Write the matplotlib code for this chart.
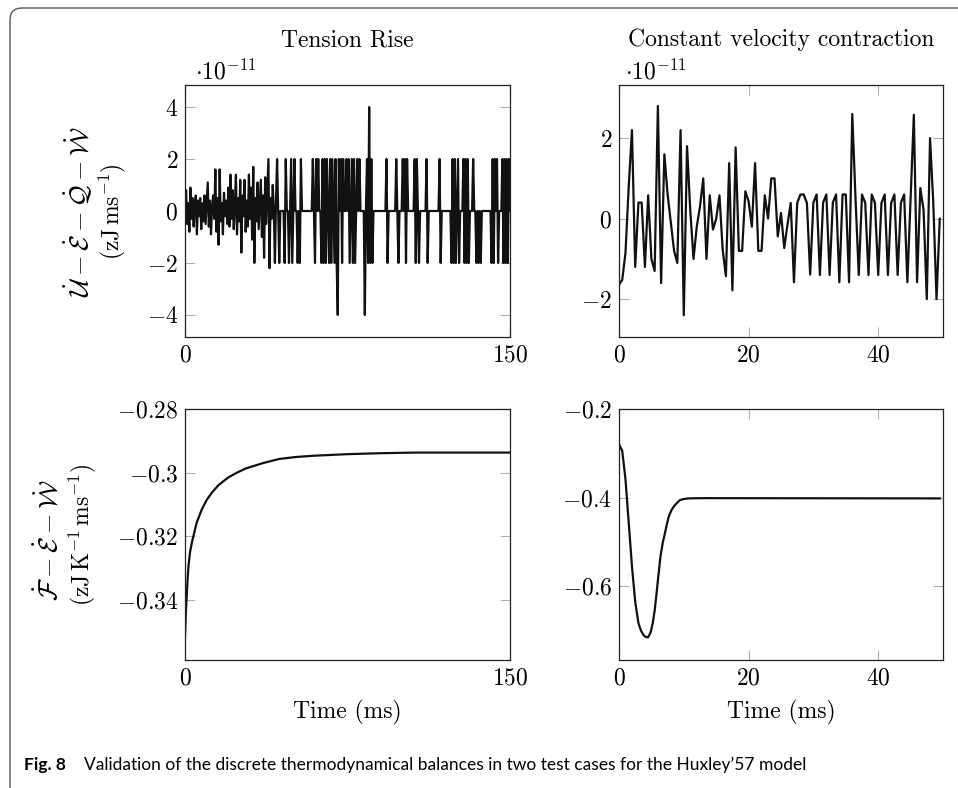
import matplotlib
matplotlib.use("Agg")
import matplotlib.pyplot as plt
from matplotlib.patches import FancyBboxPatch
import numpy as np

plt.rcParams['mathtext.fontset'] = 'cm'
plt.rcParams['font.family'] = 'serif'
plt.rcParams['font.serif'] = ['cmr10']
plt.rcParams['axes.formatter.use_mathtext'] = True
plt.rcParams['axes.unicode_minus'] = False

# ---- data ----
dt = 0.5  # ms, sampling step of both simulations

# tension rise, U - E - Q - W  (units of 1e-11)
tension_energy = [
    0.2, 0.8, -0.5, 0.3, -0.8, 0.9, -0.3, 0.5, -0.6, 0.2,
    0.6, -0.9, 0.4, -0.2, 0.5, -0.7, 0.3, -0.4, 0.6, -0.5,
    0.3, 1.1, -0.6, 0.4, -0.9, 0.2, 0.6, -0.3, 1.6, -0.8,
    0.5, -1.3, 1.6, -0.4, 0.3, -0.9, 0.7, -0.2, 0.4, -0.5,
    0.9, -0.6, 1.4, -0.3, 0.8, -0.7, 0.2, 1.4, -0.9, 0.5,
    -0.4, 1.2, -1.6, 0.6, -0.2, 1.2, -0.8, 0.4, -0.6, 1.4,
    -0.3, 0.9, -1.1, 1.7, -2.0, 0.5, -0.4, 1.1, -0.7, 0.3,
    1.2, -1.0, 0.6, -1.8, 1.3, -0.5, 0.7, 2.0, -2.2, 0.5,
    -0.3, 1.0, 0.0, -2.0, 0.4, 2.0, 0.0, -2.0, 0.0, 0.0,
    0, 0, -2, 2, 0, 0, -2, 0, 2, -2,
    0, 2, 0, 0, -2, 0, -2, 2, 0, 0,
    0, 0, 0, 0, 0, 0, 0, 0, 2, 0,
    -2, 2, 0, 2, 0, 0, -2, 2, -2, 2,
    -2, 2, 0, -2, 2, -2, 2, 0, -2, 2,
    -2, -4, 2, 0, 2, -2, 2, 0, 0, 2,
    0, 2, -2, 0, 2, -2, 2, -2, 0, 2,
    0, 2, 0, 0, 0, 0, -4, 0, 2, -2,
    4, -2, 2, -2, 0, 0, 0, 0, 0, 0,
    0, 0, 0, 0, 0, 0, 2, -2, 0, 0,
    0, 0, 0, 0, 0, 2, 0, -2, 0, 0,
    0, 2, 0, 2, -2, 2, 0, 0, 0, 0,
    0, 0, 2, -2, 2, 0, -2, 0, 0, 0,
    0, 0, 0, 2, -2, 0, 0, 0, 0, 0,
    0, 0, 0, 0, 0, 2, -2, 0, 0, 0,
    0, 0, 0, 0, 0, 0, -2, 2, -2, 2,
    -2, 0, 2, -2, 0, 0, 0, 2, -2, 2,
    -2, 2, -2, 0, 0, 0, 2, 0, 0, -2,
    0, -2, 0, -2, 0, 0, 0, 0, 0, 0,
    0, 0, 0, -2, 2, -2, 2, 0, 2, -2,
    0, 0, 0, 2, -2, 2, -2, 2, -2, 2,
    0,
]

# constant velocity contraction, U - E - Q - W  (units of 1e-11)
contraction_energy = [
    -1.64, -1.52, -0.85, 0.8, 2.2, -1.2, 0.4, 0.4, -1.2, 0.58,
    -1.0, -1.3, 2.8, -1.6, 1.6, 0.6, -0.1, -0.8, -1.1, 2.2,
    -2.4, 1.8, 0.2, -1.0, -0.2, 0.3, 1.0, -1.0, 0.58, -0.27,
    0.0, 0.58, -0.77, -1.43, 1.38, -1.78, 1.77, -0.8, -0.8, 0.68,
    0.43, -0.2, 1.38, -0.8, -0.8, 0.58, 0.0, 1.0, 1.0, -0.44,
    0.14, -0.73, -0.15, 0.39, -1.58, 0.39, 0.6, 0.6, 0.39, -1.39,
    0.4, 0.6, -1.4, 0.4, 0.6, -1.4, 0.4, 0.6, -1.58, 0.6,
    0.6, -1.58, 2.6, 0.5, -1.4, 0.6, 0.39, -1.4, 0.6, 0.39,
    -1.4, 0.39, 0.6, -1.4, 0.39, 0.6, -1.4, 0.39, 0.6, -1.58,
    0.5, 2.58, -1.58, 0.76, 0.22, -2.0, 2.0, 0.4, -2.0, 0.0,
]

# tension rise, F - E - W
tension_free_t = [0, 0.4, 0.8, 1.2, 1.6, 2.3, 3.1, 3.9, 5.4, 7.8, 10, 12.5,
                  15.5, 20, 24, 28, 36, 43.5, 51, 59, 75, 90, 106, 150]
tension_free = [-0.3517, -0.3440, -0.3388, -0.3335, -0.3294, -0.3251, -0.3222,
                -0.3199, -0.3157, -0.3115, -0.3086, -0.3062, -0.3039, -0.3015,
                -0.3000, -0.2987, -0.2970, -0.2957, -0.2951, -0.2947, -0.2942,
                -0.2939, -0.2937, -0.2937]

# constant velocity contraction, F - E - W
contraction_free_t = [0, 0.5, 1.0, 1.5, 2.0, 2.5, 3.0, 3.4, 3.8, 4.2, 4.5,
                      4.9, 5.2, 5.5, 5.8, 6.1, 6.4, 6.75, 7.1, 7.4, 7.7, 8.1,
                      8.5, 9.0, 9.4, 10.0, 10.7, 12.0, 13.5, 49.5]
contraction_free = [-0.2793, -0.2944, -0.3585, -0.4566, -0.5549, -0.6342,
                    -0.683, -0.700, -0.7105, -0.7145, -0.7149, -0.703, -0.683,
                    -0.655, -0.6151, -0.573, -0.5322, -0.502, -0.4793, -0.459,
                    -0.4417, -0.428, -0.419, -0.411, -0.4054, -0.403, -0.4016,
                    -0.4012, -0.401, -0.4016]

W, H = 958, 788
fig = plt.figure(figsize=(W / 100, H / 100), dpi=100)


def px_axes(l, r, t, b):
    return fig.add_axes([l / W, 1 - b / H, (r - l) / W, (b - t) / H])


def style(ax, xt, yt, ylabels):
    ax.set_xticks(xt)
    ax.set_xticklabels(['$%g$' % v for v in xt])
    ax.set_yticks(yt)
    ax.set_yticklabels(ylabels)
    ax.tick_params(direction='in', length=7, width=0.8, color='#b0b0b0',
                   top=True, right=True, labelsize=17, pad=5)
    for s in ax.spines.values():
        s.set_color('#222222')
        s.set_linewidth(0.9)


LW = 1.6
COL = '#111111'

ax1 = px_axes(185, 510, 85, 337)
ax1.plot(np.arange(len(tension_energy)) * dt, tension_energy, color=COL, lw=LW)
ax1.set_xlim(0, 150)
ax1.set_ylim(-4.85, 4.85)
style(ax1, [0, 150], [-4, -2, 0, 2, 4], ['$-4$', '$-2$', '$0$', '$2$', '$4$'])

ax2 = px_axes(619, 943, 85, 337)
ax2.plot(np.arange(len(contraction_energy)) * dt, contraction_energy, color=COL, lw=LW)
ax2.set_xlim(0, 50)
ax2.set_ylim(-2.94, 3.32)
style(ax2, [0, 20, 40], [-2, 0, 2], ['$-2$', '$0$', '$2$'])

ax3 = px_axes(185, 510, 409, 660)
ax3.plot(tension_free_t, tension_free, color=COL, lw=LW)
ax3.set_xlim(0, 150)
ax3.set_ylim(-0.3589, -0.28)
style(ax3, [0, 150], [-0.34, -0.32, -0.3, -0.28],
      ['$-0.34$', '$-0.32$', '$-0.3$', '$-0.28$'])

ax4 = px_axes(619, 943, 409, 660)
ax4.plot(contraction_free_t, contraction_free, color=COL, lw=LW)
ax4.set_xlim(0, 50)
ax4.set_ylim(-0.766, -0.2)
style(ax4, [0, 20, 40], [-0.6, -0.4, -0.2], ['$-0.6$', '$-0.4$', '$-0.2$'])


def ftext(x, y, s, **kw):
    fig.text(x / W, 1 - y / H, s, **kw)


ftext(347, 40, 'Tension Rise', ha='center', va='center', fontsize=17)
ftext(781, 40, 'Constant velocity contraction', ha='center', va='center', fontsize=17)
ftext(195, 72, r'$\cdot 10^{-11}$', ha='left', va='center', fontsize=17)
ftext(625, 72, r'$\cdot 10^{-11}$', ha='left', va='center', fontsize=17)

ftext(347, 712, 'Time (ms)', ha='center', va='center', fontsize=17)
ftext(781, 712, 'Time (ms)', ha='center', va='center', fontsize=17)

ftext(78, 212, r'$\dot{\mathcal{U}}-\dot{\mathcal{E}}-\dot{\mathcal{Q}}-\dot{\mathcal{W}}$',
      ha='center', va='center', rotation=90, fontsize=19)
ftext(112, 212, r'$(\mathrm{zJ\,ms}^{-1})$', ha='center', va='center',
      rotation=90, fontsize=17)
ftext(48, 540, r'$\dot{\mathcal{F}}-\dot{\mathcal{E}}-\dot{\mathcal{W}}$',
      ha='center', va='center', rotation=90, fontsize=19)
ftext(82, 535, r'$(\mathrm{zJ\,K}^{-1}\,\mathrm{ms}^{-1})$', ha='center',
      va='center', rotation=90, fontsize=17)

cap_font = ['Lato', 'DejaVu Sans']
ftext(24, 765, 'Fig. 8', ha='left', va='center', fontsize=12.5,
      fontweight='bold', family=cap_font)
ftext(84, 765, 'Validation of the discrete thermodynamical balances in two '
      'test cases for the Huxley\u201957 model', ha='left', va='center',
      fontsize=12.5, family=cap_font)

# page frame with rounded corner
frame = FancyBboxPatch((0.10, -0.5), 10.0, 7.80 + 0.5,
                       boxstyle='round,pad=0,rounding_size=0.12',
                       transform=fig.dpi_scale_trans, fill=False,
                       edgecolor='#555555', linewidth=1.0)
fig.add_artist(frame)

fig.savefig('out.png', dpi=100)
